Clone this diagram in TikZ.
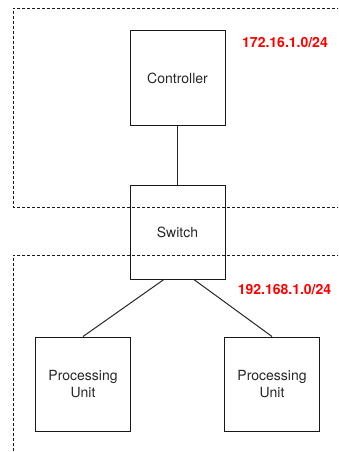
\documentclass[tikz,border=0pt]{standalone}
\usepackage{fontspec}
\setmainfont{TeX Gyre Heros}
\usepackage{xcolor}
\usepackage{tikz}
\usetikzlibrary{positioning}

\begin{document}
\begin{tikzpicture}[x=1pt,y=1pt,
                box/.style={
                  draw=black!90, line width=1pt, minimum width=95pt, minimum height=94pt,
                  inner sep=0pt, align=center, font=\fontsize{14}{16.5}\selectfont, text=black!85
                },
                subnet/.style={
                  draw=black!90, line width=0.9pt, dash pattern=on 3pt off 2pt
                },
                netlabel/.style={
                  text=red, font=\fontsize{14}{16}\selectfont\bfseries
                },
                link/.style={draw=black!85, line width=1pt}
                ]
                \clip (0,0) rectangle (338,-452);
                % the two networks
                \draw [subnet] (345,-8) -- (13,-8) -- (13,-207) -- (345,-207);
                \draw [subnet] (345,-255) -- (13,-255) -- (13,-460);
                % devices
                \node [box] (ctrl) at (177.5,-78) {Controller};
                \node [box, below=59pt of ctrl] (sw) {Switch};
                \node [box] (pu1) at (83,-384) {Processing\\Unit};
                \node [box] (pu2) at (272,-384) {Processing\\Unit};
                \node [netlabel] (net1) at (285,-43) {172.16.1.0/24};
                \node [netlabel] (net2) at (284.5,-290) {192.168.1.0/24};
                % links
                \draw [link] (ctrl) -- (sw);
                \draw [link] (sw.254) -- (pu1.north);
                \draw [link] (sw.289) -- (pu2.north);
\end{tikzpicture}
\end{document}
